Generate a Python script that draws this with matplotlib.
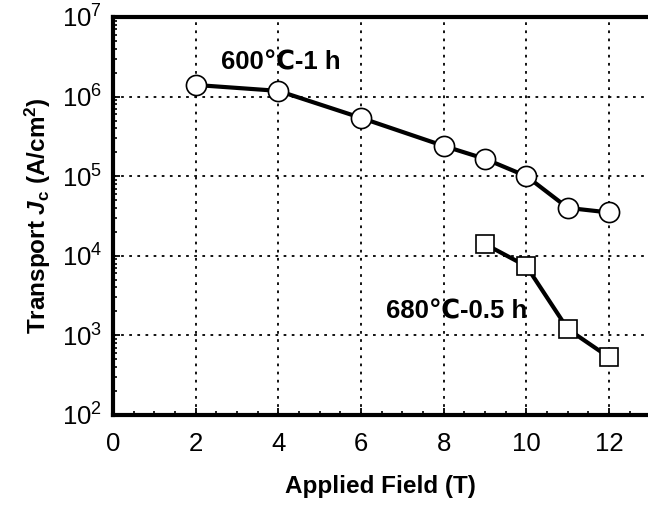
import matplotlib
matplotlib.use("Agg")
import matplotlib.pyplot as plt
import numpy as np
from matplotlib.ticker import MultipleLocator, LogLocator, NullFormatter, FuncFormatter

plt.rcParams['font.family'] = ['Liberation Sans', 'DejaVu Sans']
plt.rcParams['mathtext.fontset'] = 'custom'
plt.rcParams['mathtext.rm'] = 'Liberation Sans:bold'
plt.rcParams['mathtext.it'] = 'Liberation Sans:style=italic:weight=bold'
plt.rcParams['mathtext.bf'] = 'Liberation Sans:bold'
plt.rcParams['mathtext.sf'] = 'Liberation Sans'

# 600C-1 h series
field_600 = [2, 4, 6, 8, 9, 10, 11, 12]
jc_600 = [1.4e6, 1.18e6, 5.4e5, 2.4e5, 1.65e5, 1.0e5, 4.0e4, 3.5e4]

# 680C-0.5 h series
field_680 = [9, 10, 11, 12]
jc_680 = [1.4e4, 7.4e3, 1.2e3, 530]

fig = plt.figure(figsize=(6.48, 5.08), dpi=100)
ax = fig.add_axes([113 / 648, 93 / 508, 535 / 648, 398 / 508])

ax.plot(field_600, jc_600, color='black', lw=3, marker='o', ms=14.5,
        mfc='white', mec='black', mew=1.2, zorder=3)
ax.plot(field_680, jc_680, color='black', lw=3, marker='s', ms=12.5,
        mfc='white', mec='black', mew=1.2, zorder=3)

ax.set_yscale('log')
ax.set_xlim(0, 12.94)
ax.set_ylim(1e2, 1e7)

ax.xaxis.set_major_locator(MultipleLocator(2))
ax.xaxis.set_minor_locator(MultipleLocator(0.5))
ax.yaxis.set_major_locator(LogLocator(base=10, numticks=10))
ax.yaxis.set_minor_locator(LogLocator(base=10, subs=np.arange(2, 10), numticks=10))
ax.yaxis.set_minor_formatter(NullFormatter())
ax.yaxis.set_major_formatter(FuncFormatter(
    lambda v, p: r'$\mathsf{10^{%d}}$' % round(np.log10(v))))

ax.grid(True, which='major', color='black', linestyle=(0, (1.5, 3)), lw=1.3)

ax.tick_params(which='major', direction='in', length=5, width=1.3,
               labelsize=18.5, pad=8)
ax.tick_params(which='minor', direction='in', length=3, width=1.2)
ax.tick_params(axis='x', which='major', pad=12)

for s in ['left', 'bottom', 'top']:
    ax.spines[s].set_linewidth(3)
ax.spines['right'].set_visible(False)

ax.set_xlabel('Applied Field (T)', fontsize=17.5, fontweight='bold', labelpad=14)
ax.set_ylabel(r'Transport $J_\mathrm{c}$ (A/cm$^\mathrm{2}$)',
              fontsize=17.5, fontweight='bold', labelpad=6)

ax.text(2.62, 2.7e6, '600\u2103-1 h', fontsize=18.5, fontweight='bold',
        family=['Liberation Sans', 'DejaVu Sans'], ha='left', va='center')
ax.text(6.6, 2.0e3, '680\u2103-0.5 h', fontsize=18.5, fontweight='bold',
        family=['Liberation Sans', 'DejaVu Sans'], ha='left', va='center')

fig.savefig('out.png', dpi=100)
